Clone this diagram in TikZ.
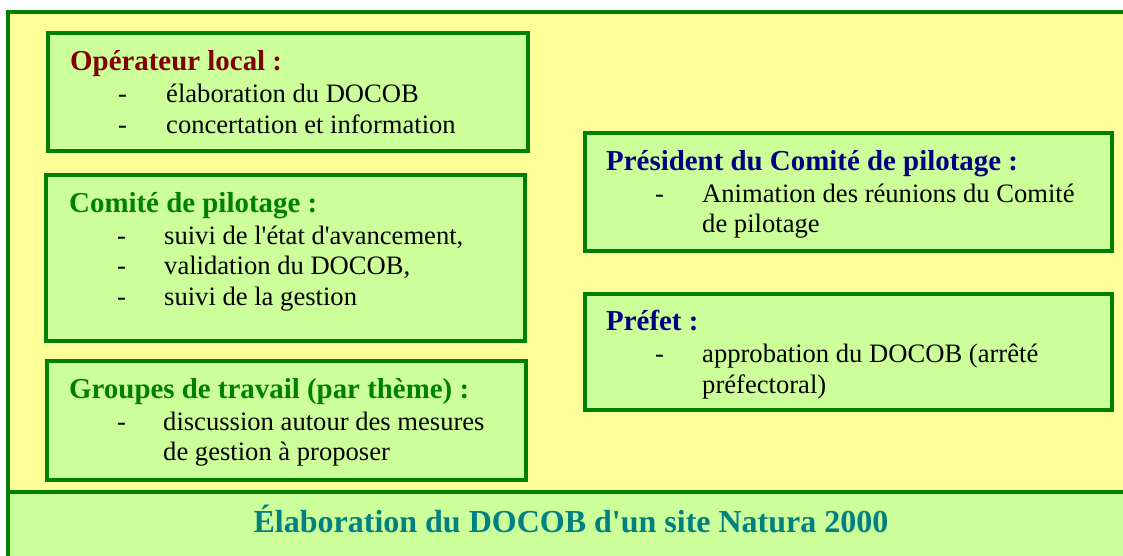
\documentclass[tikz,border=0pt]{standalone}
\usepackage{fontspec}
\setmainfont{Liberation Serif}[Ligatures=TeXOff]
\definecolor{bgyellow}{HTML}{FFFF99}
\definecolor{boxgreen}{HTML}{CCFF99}
\definecolor{linegreen}{HTML}{008000}
\definecolor{tred}{HTML}{800000}
\definecolor{tgreen}{HTML}{008000}
\definecolor{tblue}{HTML}{000080}
\definecolor{tteal}{HTML}{008080}
\begin{document}
\begin{tikzpicture}[x=1pt,y=-1pt,
  box/.style={draw=linegreen, line width=4pt, fill=boxgreen, inner sep=0pt, outer sep=0pt, anchor=north west},
  ttl/.style={anchor=base west, inner sep=0pt, font=\rmfamily\fontsize{28.9}{33}\selectfont\bfseries},
  itm/.style={anchor=base west, inner sep=0pt, font=\rmfamily\fontsize{26.6}{31}\selectfont},
  dsh/.style={anchor=base west, inner sep=0pt, font=\rmfamily\fontsize{26.6}{31}\selectfont}]
\useasboundingbox (0,0) rectangle (1123,555);
\clip (0,0) rectangle (1123,555);
\fill[white] (0,0) rectangle (1123,555);
\path[fill=bgyellow, draw=linegreen, line width=4pt] (8,12) rectangle (1140,580);
\path[fill=boxgreen, draw=linegreen, line width=4pt] (8,492) rectangle (1140,580);

% boxes
\node[box, minimum width=480pt, minimum height=118pt] (op) at (48,33) {};
\node[box, minimum width=479pt, minimum height=166pt] (cp) at (46,175) {};
\node[box, minimum width=479pt, minimum height=119pt] (gt) at (47,361) {};
\node[box, minimum width=527pt, minimum height=118pt] (pr) at (585,133) {};
\node[box, minimum width=527pt, minimum height=116pt] (pf) at (585,294) {};

% Opérateur local
\node[ttl, text=tred] (opt) at (70,70.7) {Opérateur local :};
\node[dsh] (opd1) at (118,102) {-};
\node[itm] (opi1) at (166,102) {élaboration du DOCOB};
\node[dsh] (opd2) at (118,133) {-};
\node[itm] (opi2) at (166,133) {concertation et information};

% Comité de pilotage
\node[ttl, text=tgreen] (cpt) at (69,212.7) {Comité de pilotage :};
\node[dsh] (cpd1) at (117,244) {-};
\node[itm] (cpi1) at (164,244) {suivi de l'état d'avancement,};
\node[dsh] (cpd2) at (117,274.5) {-};
\node[itm] (cpi2) at (164,274.5) {validation du DOCOB,};
\node[dsh] (cpd3) at (117,305) {-};
\node[itm] (cpi3) at (164,305) {suivi de la gestion};

% Groupes de travail
\node[ttl, text=tgreen] (gtt) at (69,398) {Groupes de travail (par thème) :};
\node[dsh] (gtd1) at (117,430) {-};
\node[itm] (gti1) at (163,430) {discussion autour des mesures};
\node[itm] (gti2) at (163,460) {de gestion à proposer};

% Président
\node[ttl, text=tblue] (prt) at (606,170) {Président du Comité de pilotage :};
\node[dsh] (prd1) at (655,202.3) {-};
\node[itm] (pri1) at (702,202.3) {Animation des réunions du Comité};
\node[itm] (pri2) at (702,232.3) {de pilotage};

% Préfet
\node[ttl, text=tblue] (pft) at (606,330) {Préfet :};
\node[dsh] (pfd1) at (655,362) {-};
\node[itm] (pfi1) at (702,362) {approbation du DOCOB (arrêté};
\node[itm] (pfi2) at (702,393) {préfectoral)};

% bottom title
\node[anchor=base, inner sep=0pt, text=tteal, font=\rmfamily\fontsize{32}{36}\selectfont\bfseries] (bt) at (571,532) {Élaboration du DOCOB d'un site Natura 2000};
\end{tikzpicture}
\end{document}
